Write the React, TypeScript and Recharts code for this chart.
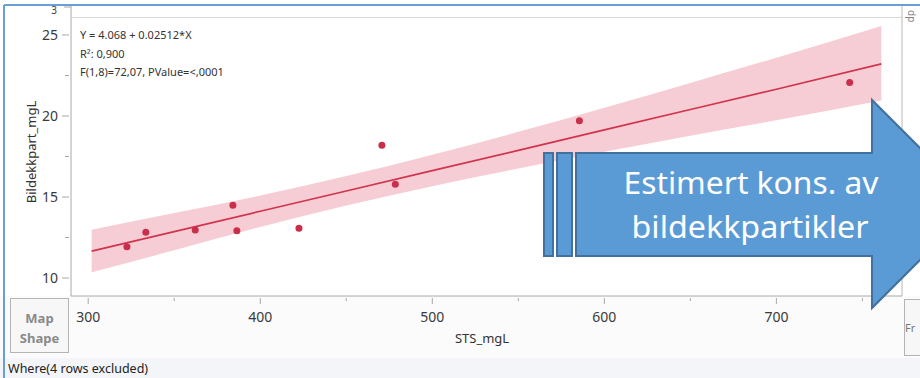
import { ComposedChart, Area, Line, Scatter, XAxis, YAxis } from 'recharts'

// observed points (STS_mgL vs Bildekkpart_mgL)
const stsValues = [322.5, 333.5, 362.2, 384.1, 386.4, 422.5, 470.7, 478.5, 585.5, 742.6]
const bildekkValues = [11.93, 12.82, 12.96, 14.49, 12.92, 13.07, 18.2, 15.78, 19.71, 22.06]

// fitted line and 95% confidence band
const bandX = [302, 350, 400, 450, 500, 550, 600, 650, 700, 761]
const bandLow = [10.35, 11.71, 13.15, 14.47, 15.67, 16.76, 17.79, 18.78, 19.73, 20.95]
const bandHigh = [12.98, 14.01, 15.09, 16.29, 17.61, 19.02, 20.51, 22.04, 23.6, 25.55]
const fitValues = [11.66, 12.86, 14.12, 15.37, 16.63, 17.88, 19.14, 20.4, 21.65, 23.22]

const xTicks = [300, 350, 400, 450, 500, 550, 600, 650, 700, 750]
const xMajor = [300, 400, 500, 600, 700]
const yTicks = [10, 12.5, 15, 17.5, 20, 22.5, 25]
const yMajor = [10, 15, 20, 25]

const statLines = ['Y = 4.068 + 0.02512*X', 'R²: 0,900', 'F(1,8)=72,07, PValue=<,0001']
const arrowLines = ['Estimert kons. av', 'bildekkpartikler']

const bandData = bandX.map((x, i) => ({ x, band: [bandLow[i], bandHigh[i]], fit: fitValues[i] }))
const points = stsValues.map((x, i) => ({ x, y: bildekkValues[i] }))

const FONT = '"Noto Sans", "Open Sans", sans-serif'
const RED = '#d0344f'

function XTick({ x, y, payload }: any) {
  const major = xMajor.includes(payload.value)
  return (
    <g>
      <line x1={x} x2={x} y1={y} y2={y + (major ? 6 : 3)} stroke="#a8a8a8" />
      {major && (
        <text x={x} y={y + 24} textAnchor="middle" fontSize={14} fill="#3a3a3a" fontFamily={FONT}>
          {payload.value}
        </text>
      )}
    </g>
  )
}

function YTick({ x, y, payload }: any) {
  const major = yMajor.includes(payload.value)
  return (
    <g>
      <line x1={x} x2={x - (major ? 7 : 4)} y1={y} y2={y} stroke="#a8a8a8" />
      {major && (
        <text x={x - 11} y={y + 5} textAnchor="end" fontSize={14} fill="#3a3a3a" fontFamily={FONT}>
          {payload.value}
        </text>
      )}
    </g>
  )
}

function App() {
  return (
    <div style={{ position: 'absolute', left: 0, top: 0, width: 920, height: 378, background: '#fff', overflow: 'hidden', fontFamily: FONT }}>
      {/* JMP frame behind the plot */}
      <svg width={920} height={378} style={{ position: 'absolute', left: 0, top: 0 }}>
        <rect x={0} y={296} width={920} height={82} fill="#fbfbfb" />
        <rect x={0} y={358} width={920} height={20} fill="#f3f5f8" />
        <text x={54} y={14} fontSize={10} fill="#3a3a3a" textAnchor="middle">3</text>
        <line x1={71} x2={71} y1={6} y2={296} stroke="#a8a8a8" />
        <line x1={64} x2={71} y1={7} y2={7} stroke="#a8a8a8" />
        <line x1={71} x2={902} y1={17.5} y2={17.5} stroke="#d8d8d8" />
        <line x1={902} x2={902} y1={6} y2={296} stroke="#b8b8b8" />
        <text transform="translate(36,152) rotate(-90)" textAnchor="middle" fontSize={13} fill="#333">Bildekkpart_mgL</text>
        <text x={482} y={343} textAnchor="middle" fontSize={13} fill="#333">STS_mgL</text>
        <rect x={10.5} y={298.5} width={58} height={54} fill="#f7f7f7" stroke="#b4b4b4" />
        <text x={39.5} y={323} textAnchor="middle" fontSize={13} fontWeight="bold" fill="#8a8a8a">Map</text>
        <text x={39.5} y={343} textAnchor="middle" fontSize={13} fontWeight="bold" fill="#8a8a8a">Shape</text>
        <text x={8} y={373} fontSize={12.5} fill="#222">Where(4 rows excluded)</text>
        <rect x={904.5} y={299.5} width={20} height={56} fill="#f7f7f7" stroke="#b4b4b4" />
        <text x={905} y={332} fontSize={11} fill="#777">Fr</text>
        <text transform="translate(908,10) rotate(90)" fontSize={10} fill="#888">dp</text>
      </svg>

      <ComposedChart
        width={920}
        height={378}
        data={bandData}
        margin={{ top: 17, right: 18, bottom: 0, left: 0 }}
        style={{ position: 'absolute', left: 0, top: 0 }}
      >
        <XAxis
          type="number"
          dataKey="x"
          domain={[290, 773]}
          ticks={xTicks}
          interval={0}
          height={82}
          tickSize={0}
          tickLine={false}
          axisLine={{ stroke: '#a8a8a8' }}
          tick={<XTick />}
          allowDataOverflow
        />
        <YAxis
          type="number"
          dataKey="y"
          domain={[8.89, 26.11]}
          ticks={yTicks}
          interval={0}
          width={71}
          tickSize={0}
          tickLine={false}
          axisLine={false}
          tick={<YTick />}
          allowDataOverflow
        />
        <Area type="monotone" dataKey="band" stroke="none" fill="#f6cdd4" fillOpacity={1} isAnimationActive={false} />
        <Line type="linear" dataKey="fit" stroke={RED} strokeWidth={1.7} dot={false} isAnimationActive={false} />
        <Scatter data={points} fill="#c92e4b" shape={(p: any) => <circle cx={p.cx} cy={p.cy} r={3.5} fill="#c92e4b" />} isAnimationActive={false} />
      </ComposedChart>

      {/* annotation text + slide arrow on top */}
      <svg width={920} height={378} style={{ position: 'absolute', left: 0, top: 0 }}>
        {statLines.map((t, i) => (
          <text key={t} x={80} y={39 + i * 18.5} fontSize={11} fill="#333">{t}</text>
        ))}
        <line x1={4} x2={920} y1={5} y2={5} stroke="#6a9fd6" strokeWidth={2} />
        <line x1={4} x2={4} y1={5} y2={378} stroke="#6a9fd6" strokeWidth={2} />
        <rect x={544} y={153} width={9} height={103} fill="#5b9bd5" stroke="#41719c" strokeWidth={2} />
        <rect x={557} y={153} width={15} height={103} fill="#5b9bd5" stroke="#41719c" strokeWidth={2} />
        <polygon points="576,153 872,153 872,100 976,204 872,308 872,256 576,256" fill="#5b9bd5" stroke="#41719c" strokeWidth={2} />
        <text x={751} y={194} textAnchor="middle" fontSize={31} fill="#fff" textLength={255} lengthAdjust="spacingAndGlyphs">{arrowLines[0]}</text>
        <text x={750} y={238} textAnchor="middle" fontSize={31} fill="#fff" textLength={237} lengthAdjust="spacingAndGlyphs">{arrowLines[1]}</text>
      </svg>
    </div>
  )
}

export default App
